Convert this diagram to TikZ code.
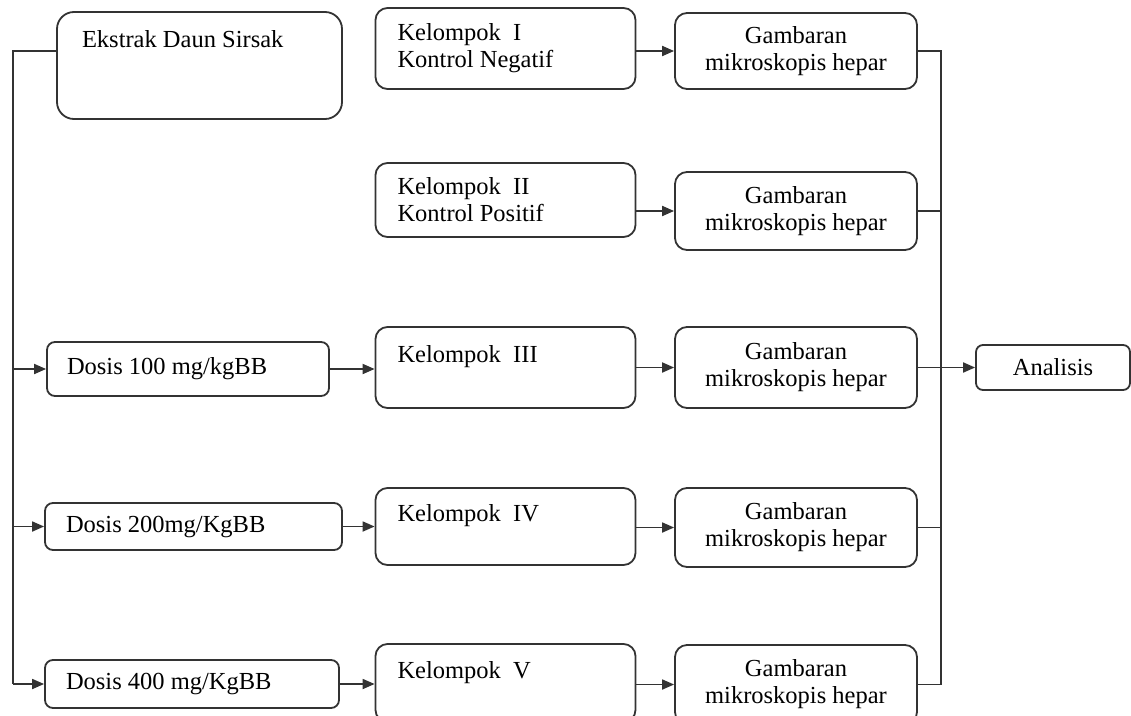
\documentclass[tikz,border=0pt]{standalone}
\usepackage{fontspec}
\setmainfont{Liberation Serif}
\usetikzlibrary{arrows.meta,calc}
\begin{document}
\begin{tikzpicture}[x=1pt,y=-1pt,
  every node/.style={font=\fontsize{24.5}{27}\selectfont, execute at begin node={\spaceskip=0.25em plus 0.1em\relax}},
  box/.style={draw=black!80, line width=1.8pt, rounded corners=12pt, inner ysep=0pt},
  ln/.style={draw=black!80, line width=1.8pt},
  arr/.style={-{Triangle[length=12pt,width=10pt]}}]
\useasboundingbox (0,0) rectangle (1131,715);
\clip (0,0) rectangle (1131,715);

% left column
\node[box, rounded corners=17pt, align=left, inner xsep=25pt, text width=235pt, minimum height=107pt] (ek) at (199.5,65.5) {Ekstrak Daun Sirsak\\\mbox{}\\\mbox{}};
\node[box, rounded corners=8pt, align=left, inner xsep=20pt, text width=242pt, minimum height=54pt] (d1) at (188,369) {Dosis 100 mg/kgBB};
\node[box, rounded corners=8pt, align=left, inner xsep=21pt, text width=255pt, minimum height=47pt] (d2) at (193.5,526.5) {Dosis 200mg/KgBB};
\node[box, rounded corners=8pt, align=left, inner xsep=21pt, text width=252pt, minimum height=48pt] (d3) at (192,684) {Dosis 400 mg/KgBB};

% kelompok column
\node[box, align=left, inner xsep=22pt, text width=216pt, minimum height=81pt] (k1) at (505.5,48.5) {Kelompok\enspace I\\Kontrol Negatif};
\node[box, align=left, inner xsep=22pt, text width=216pt, minimum height=74pt] (k2) at (505.5,200) {Kelompok\enspace II\\Kontrol Positif};
\node[box, align=left, inner xsep=22pt, text width=216pt, minimum height=81pt] (k3) at (505.5,367.5) {Kelompok\enspace III\\\mbox{}};
\node[box, align=left, inner xsep=22pt, text width=216pt, minimum height=77pt] (k4) at (505.5,526.5) {Kelompok\enspace IV\\\mbox{}};
\node[box, align=left, inner xsep=22pt, text width=216pt, minimum height=78pt] (k5) at (505.5,683) {Kelompok\enspace V\\\mbox{}};

% gambaran column
\node[box, align=center, minimum width=242pt, minimum height=76pt] (g1) at (796,51) {Gambaran\\mikroskopis hepar};
\node[box, align=center, minimum width=242pt, minimum height=78pt] (g2) at (796,211) {Gambaran\\mikroskopis hepar};
\node[box, align=center, minimum width=242pt, minimum height=81pt] (g3) at (796,367.5) {Gambaran\\mikroskopis hepar};
\node[box, align=center, minimum width=242pt, minimum height=79pt] (g4) at (796,527.5) {Gambaran\\mikroskopis hepar};
\node[box, align=center, minimum width=242pt, minimum height=79pt] (g5) at (796,684.5) {Gambaran\\mikroskopis hepar};

% analisis
\node[box, rounded corners=7pt, align=center, minimum width=154pt, minimum height=45pt] (ana) at (1053,367.5) {Analisis};

% left trunk
\coordinate (lt) at (13,51);
\draw[ln] ($(ek.west)+(0,-14.5)$) -- (lt) -- (lt |- d3.west);
\draw[ln,arr] (lt |- d1.west) -- (d1.west);
\draw[ln,arr] (lt |- d2.west) -- (d2.west);
\draw[ln,arr] (lt |- d3.west) -- (d3.west);

% dosis -> kelompok
\draw[ln,arr] (d1.east) -- (d1.east -| k3.west);
\draw[ln,arr] (d2.east) -- (d2.east -| k4.west);
\draw[ln,arr] (d3.east) -- (d3.east -| k5.west);

% kelompok -> gambaran
\draw[ln,arr] (k1.east |- g1.west) -- (g1.west);
\draw[ln,arr] (k2.east |- g2.west) -- (g2.west);
\draw[ln,arr] (k3.east |- g3.west) -- (g3.west);
\draw[ln,arr] (k4.east |- g4.west) -- (g4.west);
\draw[ln,arr] (k5.east |- g5.west) -- (g5.west);

% right trunk
\coordinate (rt) at (941,51);
\draw[ln] (g1.east) -- (g1.east -| rt) -- (g5.east -| rt) -- (g5.east);
\draw[ln] (g2.east) -- (g2.east -| rt);
\draw[ln] (g4.east) -- (g4.east -| rt);
\draw[ln,arr] (g3.east) -- (ana.west);
\end{tikzpicture}
\end{document}
